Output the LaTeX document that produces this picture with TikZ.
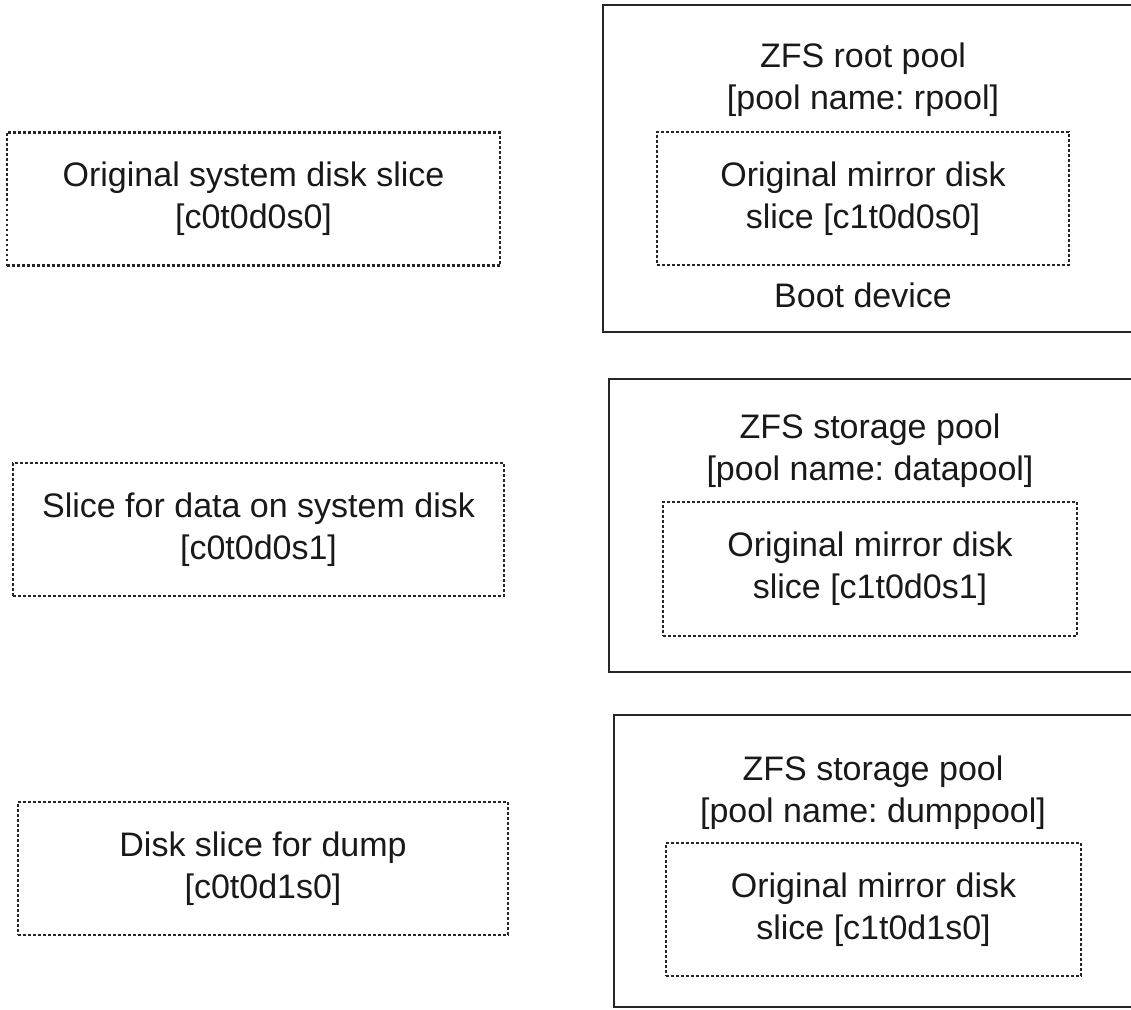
\documentclass[tikz,border=0pt]{standalone}
\usepackage{fontspec}
\setmainfont{Liberation Sans}
\frenchspacing
\usetikzlibrary{positioning}

\begin{document}
\begin{tikzpicture}[
  x=1pt, y=-1pt,
  font=\fontsize{34}{42}\selectfont, text=black!90,
  slicebox/.style={draw=black!85, line width=2.6pt, dash pattern=on 2.8pt off 2.2pt,
                   inner sep=0pt, align=center, minimum height=133pt},
  poolbox/.style={draw=black!85, line width=2.6pt, inner sep=0pt},
  lbl/.style={align=center, inner sep=0pt}
]
  \useasboundingbox (0,0) rectangle (1131,1009);
  % slices on the system disk
  \node[slicebox, minimum width=493pt] (s0) at (253.5,199) {Original system disk slice\\{[c0t0d0s0]}};
  \node[slicebox, minimum width=491pt] (s1) at (258.5,529.5) {Slice for data on system disk\\{[c0t0d0s1]}};
  \node[slicebox, minimum width=490pt] (d1) at (263,868.5) {Disk slice for dump\\{[c0t0d1s0]}};
  % pools on the mirror disk
  \node[poolbox, minimum width=560pt, minimum height=327pt] (rpool) at (883,168.5) {};
  \node[lbl] (rtitle) at (863,80) {ZFS root pool\\{[pool name: rpool]}};
  \node[slicebox, minimum width=412pt] (m0) at (863,198.5) {Original mirror disk\\slice [c1t0d0s0]};
  \node[lbl, below=16pt of m0] (boot) {Boot device};
  \node[poolbox, minimum width=560pt, minimum height=293pt] (dpool) at (889,525.5) {};
  \node[lbl] (dtitle) at (870,450.5) {ZFS storage pool\\{[pool name: datapool]}};
  \node[slicebox, minimum width=414pt, minimum height=134pt] (m1) at (870,569) {Original mirror disk\\slice [c1t0d0s1]};
  \node[poolbox, minimum width=560pt, minimum height=292pt] (xpool) at (894,861) {};
  \node[lbl] (xtitle) at (873,792.5) {ZFS storage pool\\{[pool name: dumppool]}};
  \node[slicebox, minimum width=415pt] (m2) at (873.5,909.5) {Original mirror disk\\slice [c1t0d1s0]};
\end{tikzpicture}
\end{document}
